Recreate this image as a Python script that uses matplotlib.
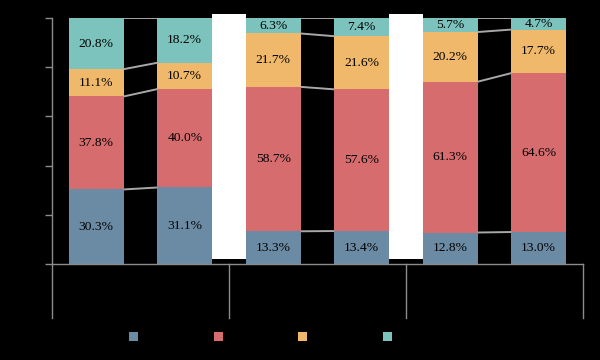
import matplotlib
matplotlib.use("Agg")
import matplotlib.pyplot as plt
import matplotlib.transforms as mtransforms
from matplotlib.patches import Rectangle, Patch
import numpy as np

# ---- data ----
bar_positions = [0, 1, 2, 3, 4, 5]
groups = [(0, 1), (2, 3), (4, 5)]
series_names = [" ", " ", " ", " "]
s1 = [30.3, 31.1, 13.3, 13.4, 12.8, 13.0]
s2 = [37.8, 40.0, 58.7, 57.6, 61.3, 64.6]
s3 = [11.1, 10.7, 21.7, 21.6, 20.2, 17.7]
s4 = [20.8, 18.2, 6.3, 7.4, 5.7, 4.7]
colors = ["#6B8BA5", "#D76C6E", "#F0B86B", "#7BC3BC"]
yticks = [0, 20, 40, 60, 80, 100]

series = [s1, s2, s3, s4]

fig = plt.figure(figsize=(6, 3.6), dpi=100, facecolor="black")
ax = fig.add_axes([52/600, 1-264/360, 531/600, 246/360])
ax.set_facecolor("black")

width = 0.62
x = np.array(bar_positions, dtype=float)
bottom = np.zeros(len(x))
handles = []
tops = []
for vals, col, name in zip(series, colors, series_names):
    vals = np.array(vals)
    ax.bar(x, vals, width, bottom=bottom, color=col, linewidth=0, zorder=2)
    for xi, b, v in zip(x, bottom, vals):
        ax.text(xi, b + v/2, f"{v:.1f}%", ha="center", va="center",
                fontsize=9.7, family="Liberation Serif", color="black", zorder=4)
    bottom = bottom + vals
    tops.append(bottom.copy())
    handles.append(Patch(facecolor=col, edgecolor="none"))

# series lines within groups
for a, b in groups:
    for lev in tops:
        ax.plot([x[a] + width/2, x[b] - width/2], [lev[a], lev[b]],
                color="#A8A8A8", lw=1.4, zorder=3, solid_capstyle="butt")

# white spacer blocks after first and second groups
for a, b in groups[:-1]:
    left = x[b] + width/2
    right = x[b+1] - width/2
    ax.add_patch(Rectangle((left, 2.0), right - left, 99.6, facecolor="white",
                           edgecolor="none", zorder=1, clip_on=False))

ax.set_xlim(-0.5, 5.5)
ax.set_ylim(0, 100)
ax.set_yticks(yticks)
ax.set_xticks([])
ax.tick_params(axis="y", length=5, color="#8C8C8C", labelleft=False, width=1)
for side in ["top", "right"]:
    ax.spines[side].set_visible(False)
for side in ["left", "bottom"]:
    ax.spines[side].set_color("#8C8C8C")
    ax.spines[side].set_linewidth(1)

# group separators below the axis
trans = mtransforms.blended_transform_factory(ax.transData, ax.transAxes)
for sx in [-0.5, 1.5, 3.5, 5.5]:
    ax.plot([sx, sx], [0, -0.22], transform=trans, color="#8C8C8C", lw=1,
            clip_on=False, zorder=3)

fig.legend(handles, series_names, loc="center left",
           bbox_to_anchor=(129/600, 1-337.5/360), ncol=4, frameon=False,
           handlelength=0.65, handleheight=0.65, handletextpad=0.4,
           columnspacing=4.73, borderaxespad=0, borderpad=0, fontsize=10,
           labelcolor="black")

fig.savefig("out.png", dpi=100, facecolor="black")
